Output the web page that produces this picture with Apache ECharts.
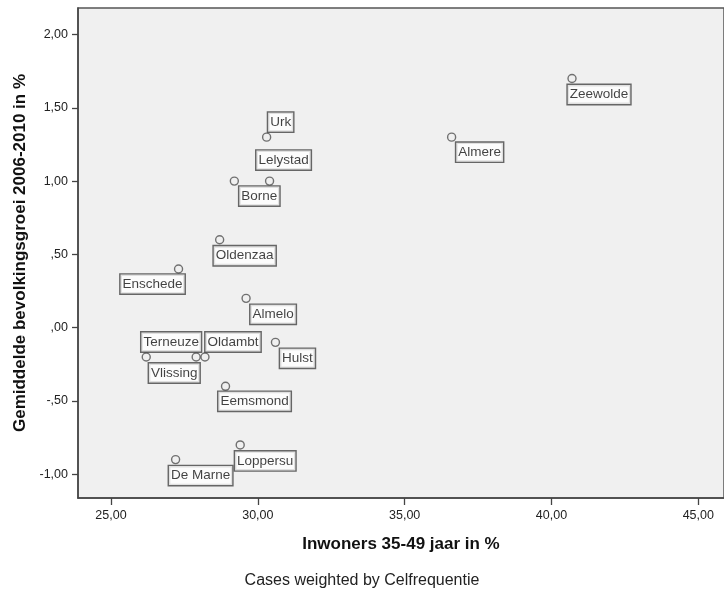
<!DOCTYPE html>
<html>
<head>
<meta charset="utf-8">
<script src="https://cdn.jsdelivr.net/npm/echarts@6/dist/echarts.min.js"></script>
<style>html,body{margin:0;padding:0;background:#fff;}#c{width:724px;height:590px;}</style>
</head>
<body>
<div id="c"></div>
<script>
// Data
const gemeenten = ['Zeewolde','Almere','Urk','Lelystad','Borne','Oldenzaa','Enschede','Almelo','Hulst','Terneuze','Vlissing','Oldambt','Eemsmond','Loppersu','De Marne'];
const inwoners3549 = [40.7, 36.6, 30.3, 30.4, 29.2, 28.7, 27.3, 29.6, 30.6, 27.9, 26.2, 28.2, 28.9, 29.4, 27.2];
const bevolkingsgroei = [1.70, 1.30, 1.30, 1.00, 1.00, 0.60, 0.40, 0.20, -0.10, -0.20, -0.20, -0.20, -0.40, -0.80, -0.90];
const xTicks = [25, 30, 35, 40, 45];
const yTicks = [-1, -0.5, 0, 0.5, 1, 1.5, 2];

// Layout of label boxes relative to each point (pixels)
const labelOffsets = [[27,16],[28,15],[14,-15],[14,-21],[25,15],[25,16],[-26,15],[27,16],[22,16],[-25,-15],[28,16],[28,-15],[29,15],[25,16],[25,16]];

function fmt(v){
  let s = Math.abs(v).toFixed(2).replace('.', ',');
  if (Math.abs(v) < 1) s = s.replace(/^0/, '');
  return (v < 0 ? '-' : '') + s;
}

const chart = echarts.init(document.getElementById('c'));
const FONT = '"Liberation Sans", Arial, sans-serif';
chart.setOption({
  animation: false,
  backgroundColor: '#ffffff',
  grid: {left: 78, top: 8, right: 0, bottom: 92, show: true, backgroundColor: '#f0f0f0', borderColor: '#555', borderWidth: 1.5},
  xAxis: {
    type: 'value', min: 23.876, max: 45.876,
    name: 'Inwoners 35-49 jaar in %', nameLocation: 'middle', nameGap: 38,
    nameTextStyle: {fontFamily: FONT, fontWeight: 'bold', fontSize: 17, color: '#111'},
    splitLine: {show: false},
    axisLine: {onZero: false, lineStyle: {color: '#444', width: 1.5}},
    axisTick: {show: true, length: 7, lineStyle: {color: '#444', width: 1.3}, customValues: xTicks},
    axisLabel: {customValues: xTicks, formatter: fmt, margin: 11, fontFamily: FONT, fontSize: 12.5, color: '#222'}
  },
  yAxis: {
    type: 'value', min: -1.162, max: 2.181,
    name: 'Gemiddelde bevolkingsgroei 2006-2010 in %', nameLocation: 'middle', nameGap: 46,
    nameTextStyle: {fontFamily: FONT, fontWeight: 'bold', fontSize: 17, color: '#111'},
    splitLine: {show: false},
    axisLine: {show: true, onZero: false, lineStyle: {color: '#444', width: 1.5}},
    axisTick: {show: true, length: 6, lineStyle: {color: '#444', width: 1.3}, customValues: yTicks},
    axisLabel: {customValues: yTicks, formatter: fmt, margin: 10, fontFamily: FONT, fontSize: 12.5, color: '#222'}
  },
  graphic: [{
    type: 'text', left: 'center', top: 573,
    style: {text: 'Cases weighted by Celfrequentie', font: '16px "Liberation Sans", Arial, sans-serif', fill: '#222'}
  }],
  series: [{
    type: 'scatter',
    symbol: 'circle', symbolSize: 8,
    itemStyle: {color: 'rgba(0,0,0,0)', borderColor: '#505050', borderWidth: 1.4},
    data: gemeenten.map((g, i) => ({
      name: g,
      value: [inwoners3549[i], bevolkingsgroei[i]],
      label: {
        show: true, position: 'inside', offset: labelOffsets[i],
        formatter: g, fontFamily: FONT, fontSize: 13.5, color: '#111',
        backgroundColor: '#ffffff', borderColor: '#444', borderWidth: 1.4,
        padding: [3, 2, 2, 2]
      }
    }))
  }]
});
</script>
</body>
</html>
